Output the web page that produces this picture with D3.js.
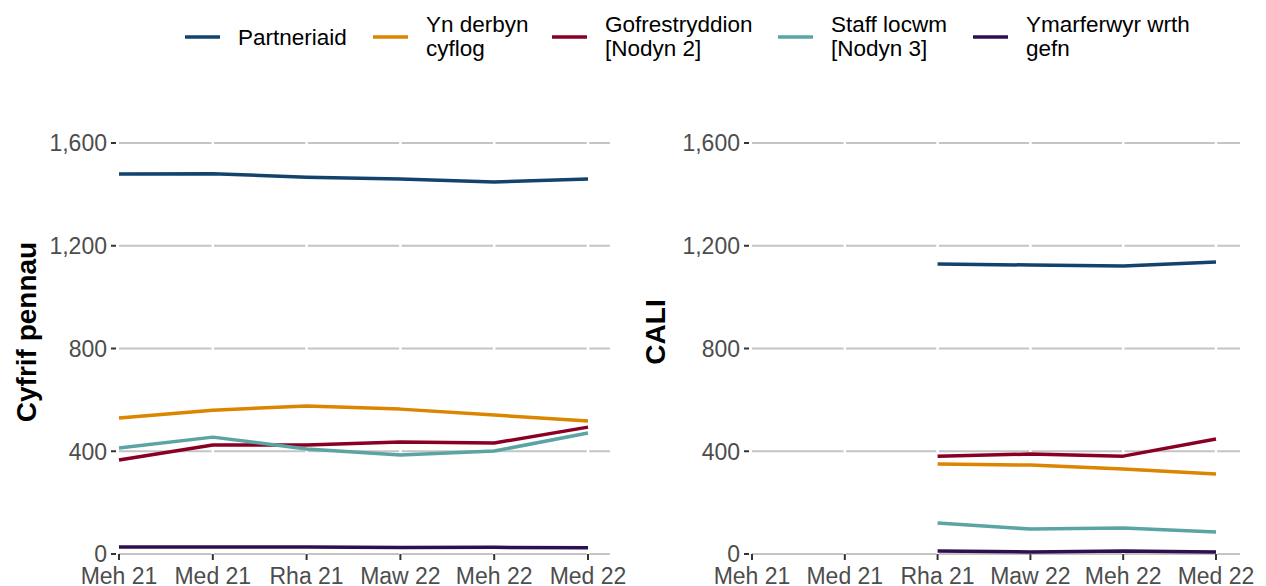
<!DOCTYPE html>
<html>
<head>
<meta charset="utf-8">
<script src="https://cdn.jsdelivr.net/npm/d3@7"></script>
<style>
  body { margin: 0; background: #fff; }
  text { font-family: "Liberation Sans", Arial, sans-serif; }
</style>
</head>
<body>
<svg id="chart" width="1266" height="586"></svg>
<script>
// months on the x axis
var months = ["Meh 21", "Med 21", "Rha 21", "Maw 22", "Meh 22", "Med 22"];
var yTicks = [0, 400, 800, 1200, 1600];

var seriesNames = [["Partneriaid"], ["Yn derbyn", "cyflog"], ["Gofrestryddion", "[Nodyn 2]"],
                   ["Staff locwm", "[Nodyn 3]"], ["Ymarferwyr wrth", "gefn"]];
var colours = ["#12436D", "#DB8500", "#8A0025", "#5BA4A4", "#2E0F4F"];

// Cyfrif pennau (headcount)
var pennauPartneriaid = [1479, 1480, 1467, 1460, 1448, 1460];
var pennauCyflog      = [529, 560, 576, 564, 541, 518];
var pennauGofrest     = [366, 424, 424, 436, 432, 494];
var pennauLocwm       = [413, 455, 409, 385, 401, 471];
var pennauWrthGefn    = [27, 27, 27, 25, 26, 24];

// CALI (full time equivalent), no data before Rha 21
var caliPartneriaid = [null, null, 1129, 1125, 1121, 1137];
var caliCyflog      = [null, null, 350, 346, 331, 311];
var caliGofrest     = [null, null, 381, 389, 381, 448];
var caliLocwm       = [null, null, 121, 97, 101, 86];
var caliWrthGefn    = [null, null, 12, 8, 12, 8];

var svg = d3.select("#chart");

var y = d3.scaleLinear().domain([0, 1600]).range([554, 143]);

function drawPanel(opts){
  var x = d3.scalePoint().domain(months).range([opts.x0, opts.x1]);
  var g = svg.append("g");

  // horizontal grid
  g.selectAll(".grid").data(yTicks).enter().append("line")
    .attr("x1", opts.x0).attr("x2", opts.gridEnd)
    .attr("y1", function(d){ return y(d); }).attr("y2", function(d){ return y(d); })
    .style("stroke", "#C4C4C4").style("stroke-width", 2);

  // little white breaks where the x ticks are
  g.selectAll(".vgap").data(months.slice(1)).enter().append("line")
    .attr("x1", function(d){ return x(d); }).attr("x2", function(d){ return x(d); })
    .attr("y1", y(1600) - 2).attr("y2", y(0) + 2)
    .style("stroke", "#fff").style("stroke-width", 2.5);

  // y ticks + labels
  g.selectAll(".ytick").data(yTicks).enter().append("line")
    .attr("x1", opts.x0 - 8).attr("x2", opts.x0 - 3)
    .attr("y1", function(d){ return y(d); }).attr("y2", function(d){ return y(d); })
    .style("stroke", "#333").style("stroke-width", 2);
  g.selectAll(".ylab").data(yTicks).enter().append("text")
    .attr("x", opts.x0 - 12).attr("y", function(d){ return y(d); })
    .attr("dy", "0.36em").attr("text-anchor", "end")
    .style("font-size", "23px").style("fill", "#4D4D4D")
    .text(function(d){ return d3.format(",")(d); });

  // x ticks + labels
  g.selectAll(".xtick").data(months).enter().append("line")
    .attr("x1", function(d){ return x(d); }).attr("x2", function(d){ return x(d); })
    .attr("y1", y(0)).attr("y2", y(0) + 6)
    .style("stroke", "#333").style("stroke-width", 2);
  g.selectAll(".xlab").data(months).enter().append("text")
    .attr("x", function(d){ return x(d); }).attr("y", 584)
    .attr("text-anchor", "middle")
    .style("font-size", "23px").style("fill", "#4D4D4D")
    .text(function(d){ return d; });

  // axis title
  g.append("text")
    .attr("transform", "translate(" + opts.titleX + "," + 332 + ") rotate(-90)")
    .attr("text-anchor", "middle").attr("dy", "0.36em")
    .style("font-size", "28px").style("font-weight", "bold").style("fill", "#000")
    .text(opts.title);

  var line = d3.line()
    .defined(function(d){ return d != null; })
    .x(function(d, i){ return x(months[i]); })
    .y(function(d){ return y(d); });

  opts.series.forEach(function(vals, i){
    g.append("path")
      .datum(vals)
      .attr("d", line)
      .style("fill", "none")
      .style("stroke", colours[i])
      .style("stroke-width", 3.5)
      .style("stroke-linejoin", "round");
  });
}

drawPanel({
  x0: 119, x1: 588, gridEnd: 610, titleX: 26, title: "Cyfrif pennau",
  series: [pennauPartneriaid, pennauCyflog, pennauGofrest, pennauLocwm, pennauWrthGefn]
});

drawPanel({
  x0: 752, x1: 1216, gridEnd: 1240, titleX: 655, title: "CALI",
  series: [caliPartneriaid, caliCyflog, caliGofrest, caliLocwm, caliWrthGefn]
});

// legend across the top
var legendX = [185, 373, 552, 778, 973];
var legend = svg.append("g");
seriesNames.forEach(function(lines, i){
  legend.append("line")
    .attr("x1", legendX[i]).attr("x2", legendX[i] + 35)
    .attr("y1", 37).attr("y2", 37)
    .style("stroke", colours[i]).style("stroke-width", 3.5);
  var t = legend.append("text")
    .attr("x", legendX[i] + 53)
    .style("font-size", "22.5px").style("fill", "#000");
  var startY = lines.length === 1 ? 37 : 24;
  lines.forEach(function(l, j){
    t.append("tspan")
      .attr("x", legendX[i] + 53)
      .attr("y", startY + j * 24)
      .attr("dy", "0.36em")
      .text(l);
  });
});
</script>
</body>
</html>
